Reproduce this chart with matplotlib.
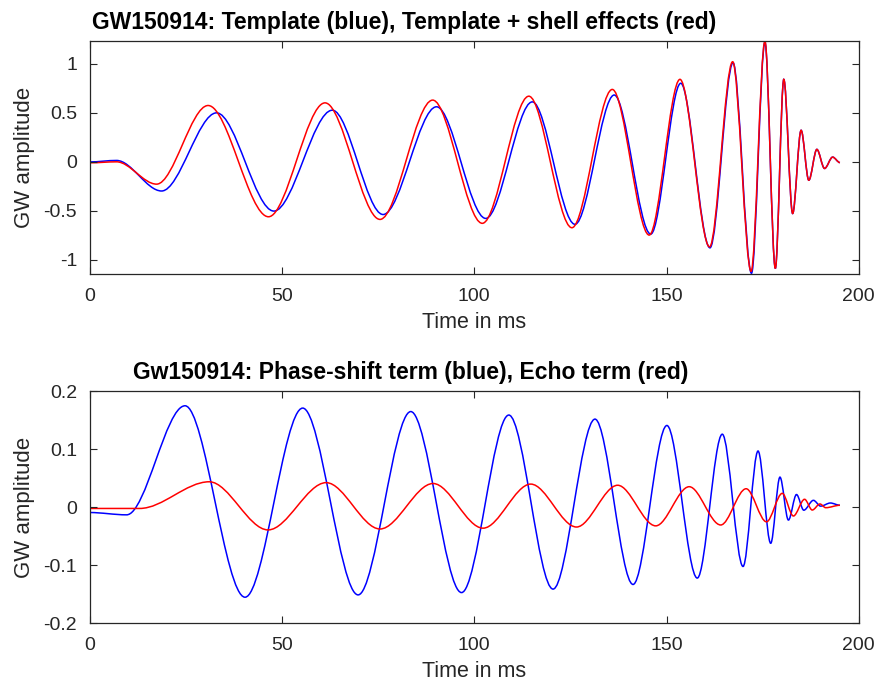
import matplotlib
matplotlib.use("Agg")
import matplotlib.pyplot as plt
from matplotlib.path import Path
from matplotlib.patches import PathPatch

plt.rcParams['font.family'] = ['Liberation Sans', 'DejaVu Sans']
plt.rcParams['axes.unicode_minus'] = False

# extrema of each waveform: (time in ms, amplitude)
tpl_t = [0, 7.0, 18.7, 33.0, 47.9, 63.1, 76.3, 90.2, 103.0, 115.1, 126.2, 136.4, 145.9,
         153.7, 161.3, 167.3, 172.1, 175.6, 178.3, 180.5, 182.8, 185.0, 187.0, 189.1,
         191.1, 193.2, 195.1]
tpl_a = [-0.003, 0.012, -0.30, 0.498, -0.505, 0.525, -0.54, 0.56, -0.58, 0.61, -0.64, 0.68,
         -0.74, 0.80, -0.88, 1.01, -1.14, 1.22, -1.09, 0.84, -0.53, 0.32, -0.19, 0.125,
         -0.07, 0.046, -0.01]

shell_t = [0, 7.0, 17.4, 30.8, 46.5, 61.2, 75.5, 89.2, 102.1, 114.2, 125.4, 135.9, 145.5,
           153.5, 161.2, 167.2, 172.0, 175.6, 178.3, 180.5, 182.8, 185.0, 187.0, 189.1,
           191.1, 193.2, 195.1]
shell_a = [-0.012, -0.002, -0.23, 0.573, -0.563, 0.60, -0.59, 0.628, -0.63, 0.668, -0.675,
           0.737, -0.75, 0.84, -0.87, 1.02, -1.12, 1.23, -1.09, 0.84, -0.53, 0.32, -0.19,
           0.125, -0.07, 0.046, -0.01]

phase_t = [0, 9.6, 24.8, 40.4, 55.4, 69.8, 83.5, 96.7, 109.0, 120.5, 131.4, 141.3, 150.1,
           158.0, 164.5, 169.9, 173.8, 177.1, 179.5, 181.7, 183.8, 185.7, 188.2, 190.1,
           192.6, 195.1]
phase_a = [-0.009, -0.013, 0.175, -0.155, 0.171, -0.151, 0.165, -0.147, 0.159, -0.141,
           0.152, -0.133, 0.141, -0.122, 0.126, -0.102, 0.097, -0.062, 0.052, -0.022,
           0.022, -0.005, 0.012, 0.002, 0.0074, 0.0035]

echo_t = [0, 13.0, 31.1, 46.4, 61.5, 75.5, 89.3, 102.3, 114.7, 126.6, 137.3, 147.2, 155.9,
          164.1, 170.7, 176.0, 180.1, 183.0, 185.9, 187.9, 189.9, 191.4, 195.1]
echo_a = [-0.002, -0.002, 0.044, -0.039, 0.0425, -0.0374, 0.041, -0.036, 0.040, -0.034,
          0.038, -0.032, 0.0355, -0.0305, 0.032, -0.025, 0.024, -0.015, 0.0138, -0.0047,
          0.0057, -0.0007, 0.0035]

x_ticks = [0, 50, 100, 150, 200]
top_yticks = [-1, -0.5, 0, 0.5, 1]
top_ylabels = ["-1", "-0.5", "0", "0.5", "1"]
bot_yticks = [-0.2, -0.1, 0, 0.1, 0.2]
bot_ylabels = ["-0.2", "-0.1", "0", "0.1", "0.2"]


def smooth_curve(ax, xs, ys, color):
    # bezier segments between extrema, flat tangent at each extremum
    verts = [(xs[0], ys[0])]
    codes = [Path.MOVETO]
    for i in range(1, len(xs)):
        dx = (xs[i] - xs[i - 1]) / 3.0
        verts += [(xs[i - 1] + dx, ys[i - 1]), (xs[i] - dx, ys[i]), (xs[i], ys[i])]
        codes += [Path.CURVE4] * 3
    ax.add_patch(PathPatch(Path(verts, codes), facecolor="none", edgecolor=color,
                           linewidth=1.1, transform=ax.transData))


def style_axes(ax, yticks, ylabels, ylim):
    ax.set_xlim(0, 200)
    ax.set_ylim(ylim)
    ax.set_xticks(x_ticks)
    ax.set_yticks(yticks)
    ax.set_yticklabels(ylabels)
    ax.tick_params(direction="in", top=True, right=True, length=5, width=0.8,
                   colors="#262626", labelsize=14)
    ax.tick_params(axis="x", pad=10)
    ax.tick_params(axis="y", pad=9)
    for s in ax.spines.values():
        s.set_color("#262626")
        s.set_linewidth(0.9)
    ax.set_xlabel("Time in ms", fontsize=15.5, color="#262626", labelpad=5)
    ax.set_ylabel("GW amplitude", fontsize=16, color="#262626", labelpad=6)


fig = plt.figure(figsize=(8.74, 6.81), dpi=100)

ax1 = fig.add_axes([0.1026, 0.598, 0.880, 0.342])
smooth_curve(ax1, tpl_t, tpl_a, "blue")
smooth_curve(ax1, shell_t, shell_a, "red")
style_axes(ax1, top_yticks, top_ylabels, (-1.145, 1.233))

ax2 = fig.add_axes([0.1026, 0.0847, 0.880, 0.3416])
smooth_curve(ax2, phase_t, phase_a, "blue")
smooth_curve(ax2, echo_t, echo_a, "red")
style_axes(ax2, bot_yticks, bot_ylabels, (-0.2, 0.201))

fig.text(404.5 / 874, 1 - 29.3 / 681, "GW150914: Template (blue), Template + shell effects (red)",
         ha="center", va="baseline", fontsize=16.5, fontweight="bold")
fig.text(411 / 874, 1 - 379.5 / 681, "Gw150914: Phase-shift term (blue), Echo term (red)",
         ha="center", va="baseline", fontsize=16.5, fontweight="bold")

plt.savefig("out.png", dpi=100)
